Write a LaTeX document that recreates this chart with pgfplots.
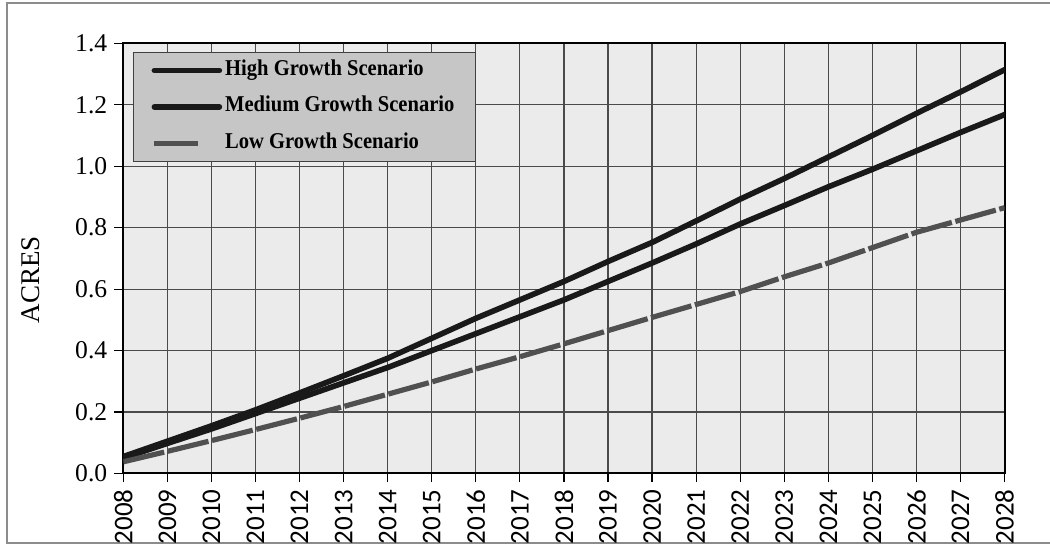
\documentclass[border=0pt]{standalone}
\usepackage{fontspec}
\setmainfont{Liberation Serif}
\newfontfamily\carlito{Carlito}
\newfontfamily\legfont[FakeStretch=0.91]{Liberation Serif}
\usepackage{pgfplots}
\pgfplotsset{compat=1.18}
\usepackage{pgfplotstable}

% Land requirement by scenario (acres)
\pgfplotstableread{
year high medium low
2008 0.055 0.050 0.038
2009 0.105 0.098 0.072
2010 0.155 0.145 0.107
2011 0.207 0.195 0.143
2012 0.262 0.245 0.180
2013 0.318 0.295 0.218
2014 0.375 0.345 0.258
2015 0.440 0.400 0.298
2016 0.505 0.455 0.340
2017 0.565 0.510 0.380
2018 0.625 0.565 0.422
2019 0.690 0.625 0.465
2020 0.752 0.685 0.508
2021 0.822 0.747 0.550
2022 0.893 0.812 0.592
2023 0.960 0.872 0.640
2024 1.030 0.933 0.685
2025 1.100 0.990 0.735
2026 1.172 1.050 0.785
2027 1.242 1.110 0.825
2028 1.314 1.168 0.865
}\acres

\definecolor{plotbg}{HTML}{EBEBEB}
\definecolor{gridc}{HTML}{4A4A4A}
\definecolor{lowc}{HTML}{505050}
\definecolor{legbg}{HTML}{C6C6C6}

\pgfplotsset{
  short legend line/.style={legend image code/.code={%
    \draw[##1, solid] (0pt,0pt) -- (22pt,0pt);\path (32.5pt,0pt);}},
}

\begin{document}
\begin{tikzpicture}
\useasboundingbox (-61.65pt,-35.25pt) rectangle (463.35pt,236.75pt);
\draw[black!45, line width=0.8pt] (463.35pt,235.25pt) -- (-58.15pt,235.25pt) -- (-58.15pt,-34.75pt) -- (463.35pt,-34.75pt);
\begin{axis}[
  scale only axis,
  width=440.7pt, height=215.1pt,
  xmin=2008, xmax=2028, ymin=0, ymax=1.4,
  axis background/.style={fill=plotbg},
  axis line style={black, line width=1pt},
  xtick={2008,...,2028},
  ytick={0,0.2,...,1.4},
  grid=major,
  major grid style={gridc, line width=0.6pt},
  tick align=outside,
  major tick length=4.5pt,
  tick style={black, line width=0.6pt},
  xtick pos=bottom, ytick pos=left,
  /pgf/number format/assume math mode=true,
  x tick label style={rotate=90, anchor=east, font=\carlito\fontsize{13.5}{14}\selectfont,
    /pgf/number format/1000 sep={}},
  y tick label style={font=\fontsize{12.8}{14}\selectfont,
    /pgf/number format/fixed, /pgf/number format/fixed zerofill, /pgf/number format/precision=1},
  ylabel={ACRES},
  ylabel style={font=\fontsize{13.5}{14}\selectfont, at={(axis description cs:-0.0866,0.45)}},
  legend style={at={(axis description cs:0.011,0.98)}, anchor=north west,
    fill=legbg, draw=black!75, line width=0.6pt,
    inner xsep=9pt, inner ysep=2.5pt, row sep=5.2pt,
    font=\legfont\bfseries\fontsize{11.3}{12}\selectfont,
    nodes={inner sep=1.5pt, text height=7.5pt, text depth=2.5pt}},
  legend cell align=left,
  legend image code/.code={\draw[#1] (0pt,0pt) -- (32.5pt,0pt);},
]
\addplot[black!90, line width=2.8pt, line cap=round] table[x=year, y=high] {\acres};
\addlegendentry{High Growth Scenario}
\addplot[black!90, line width=2.8pt, line cap=round] table[x=year, y=medium] {\acres};
\addlegendentry{Medium Growth Scenario}
\addplot[lowc, line width=2.6pt, dash pattern=on 21pt off 1.8pt, short legend line] table[x=year, y=low] {\acres};
\addlegendentry{Low Growth Scenario}
\end{axis}
\end{tikzpicture}
\end{document}
